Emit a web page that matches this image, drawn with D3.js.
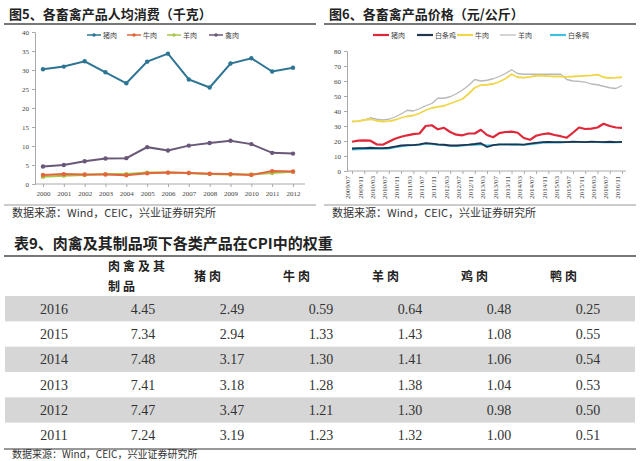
<!DOCTYPE html>
<html><head><meta charset="utf-8">
<script src="https://cdn.jsdelivr.net/npm/d3@7"></script>
<style>
body{margin:0;background:#fff;}
svg{display:block;}
</style></head>
<body>
<svg id="c" width="640" height="461"></svg>
<script>
// ---------- DATA ----------
const years = ["2000","2001","2002","2003","2004","2005","2006","2007","2008","2009","2010","2011","2012"];
const porkCons    = [30.2,30.9,32.3,29.4,26.5,32.2,34.3,27.5,25.4,31.7,33.1,29.6,30.6];
const beefCons    = [2.4,2.6,2.5,2.5,2.3,2.8,3.0,2.9,2.7,2.6,2.4,3.4,3.3];
const muttonCons  = [1.9,2.2,2.4,2.6,2.6,3.0,3.0,2.9,2.6,2.5,2.5,2.9,3.2];
const poultryCons = [4.6,5.0,6.0,6.7,6.8,9.7,8.8,10.1,10.8,11.4,10.5,8.2,8.0];
const consNames = ["猪肉","牛肉","羊肉","禽肉"];
const consTicks = [0,5,10,15,20,25,30,35,40];

const priceDates = ["2009/07","2009/09","2009/11","2010/01","2010/03","2010/05","2010/07","2010/09","2010/11","2011/01","2011/03","2011/05","2011/07","2011/09","2011/11","2012/01","2012/03","2012/05","2012/07","2012/09","2012/11","2013/01","2013/03","2013/05","2013/07","2013/09","2013/11","2014/01","2014/03","2014/05","2014/07","2014/09","2014/11","2015/01","2015/03","2015/05","2015/07","2015/09","2015/11","2016/01","2016/03","2016/05","2016/07","2016/09","2016/11"];
const porkPrice    = [19.5,20.2,20.4,20.2,17.8,17.5,19.5,21.5,22.8,23.8,24.6,25.0,30.0,30.5,27.8,28.8,26.0,24.2,23.8,25.0,25.0,27.5,24.0,22.5,25.2,26.0,26.2,25.5,22.0,20.8,23.5,24.5,25.1,24.0,23.2,22.2,25.5,29.0,28.0,28.2,29.0,31.5,30.0,29.0,28.8];
const chickenPrice = [15.0,15.2,15.3,15.5,15.3,15.2,15.5,16.3,17.0,17.3,17.2,17.8,18.6,18.3,17.8,17.5,17.0,17.0,17.3,17.6,18.0,18.5,16.0,17.2,17.8,17.8,17.8,17.8,17.6,18.2,18.8,19.3,19.4,19.3,19.2,19.3,19.5,19.4,19.3,19.5,19.4,19.2,19.5,19.3,19.4];
const beefPrice    = [33.0,33.3,34.0,34.5,33.5,33.0,33.2,34.0,35.5,36.5,37.0,38.5,40.5,42.0,42.8,43.5,45.0,46.5,48.0,51.5,55.5,57.3,57.5,58.0,59.5,61.5,64.5,62.5,62.3,62.8,63.5,63.5,63.3,63.0,63.0,62.8,63.0,63.3,63.5,63.8,64.2,62.5,62.0,62.2,62.5];
const muttonPrice  = [33.0,33.3,34.0,35.5,34.5,34.0,34.5,36.0,38.0,40.5,40.0,41.5,43.5,45.0,48.5,48.5,49.5,51.5,54.0,57.0,61.0,60.0,60.5,61.5,63.0,65.0,67.5,65.0,64.5,64.5,64.5,64.6,64.5,64.5,64.5,61.0,60.0,59.8,59.2,58.0,57.5,56.5,55.5,55.0,57.0];
const duckPrice    = [14.3,14.5,14.6,14.8,15.0,14.8,15.0,15.8,16.5,17.0,17.2,17.5,18.3,18.0,17.5,17.2,16.8,16.6,17.0,17.2,17.5,17.8,17.0,17.3,17.6,17.6,17.5,17.5,17.4,17.8,18.3,18.8,19.0,19.0,19.0,19.2,19.4,19.3,19.2,19.3,19.3,19.1,19.3,19.1,19.2];
const priceNames = ["猪肉","白条鸡","牛肉","羊肉","白条鸭"];
const priceTicks = [0,10,20,30,40,50,60,70,80];

const tableHeader = ["肉禽及其","制品","猪肉","牛肉","羊肉","鸡肉","鸭肉"];
const tableYears  = ["2016","2015","2014","2013","2012","2011"];
const colMeatPoultry = ["4.45","7.34","7.48","7.41","7.47","7.24"];
const colPork        = ["2.49","2.94","3.17","3.18","3.47","3.19"];
const colBeef        = ["0.59","1.33","1.30","1.28","1.21","1.23"];
const colMutton      = ["0.64","1.43","1.41","1.38","1.30","1.32"];
const colChicken     = ["0.48","1.08","1.06","1.04","0.98","1.00"];
const colDuck        = ["0.25","0.55","0.54","0.53","0.50","0.51"];

const sourceText = "数据来源：Wind，CEIC，兴业证券研究所";
const title5 = "图5、各畜禽产品人均消费（千克）";
const title6 = "图6、各畜禽产品价格（元/公斤）";
const title9 = "表9、肉禽及其制品项下各类产品在CPI中的权重";

// ---------- DRAW ----------
const svg = d3.select("#c");
const CJK = "'Noto Sans CJK SC', sans-serif";
const SERIF = "'Liberation Serif', 'DejaVu Serif', serif";

function panelTitle(x, text){
  svg.append("text").attr("x", x).attr("y", 19).attr("font-family", CJK)
    .attr("font-size", 13).attr("font-weight", "bold").attr("fill", "#222").text(text);
}
panelTitle(9, title5);
panelTitle(329, title6);
svg.append("line").attr("x1",4).attr("x2",316).attr("y1",24).attr("y2",24).attr("stroke","#777").attr("stroke-width",2);
svg.append("line").attr("x1",324).attr("x2",636).attr("y1",24).attr("y2",24).attr("stroke","#777").attr("stroke-width",2);
svg.append("line").attr("x1",4).attr("x2",316).attr("y1",205).attr("y2",205).attr("stroke","#999").attr("stroke-width",1);
svg.append("line").attr("x1",324).attr("x2",636).attr("y1",205).attr("y2",205).attr("stroke","#999").attr("stroke-width",1);
svg.append("text").attr("x",12).attr("y",217).attr("font-family",CJK).attr("font-size",11).attr("fill","#333").text(sourceText);
svg.append("text").attr("x",332).attr("y",217).attr("font-family",CJK).attr("font-size",11).attr("fill","#333").text(sourceText);

// ----- Chart 5 -----
{
  const x = d3.scalePoint().domain(years).range([43, 293]);
  const y = d3.scaleLinear().domain([0, 40]).range([184, 32]);
  const g = svg.append("g");
  const yAx = g.append("g").attr("transform","translate(35,0)")
    .call(d3.axisLeft(y).tickValues(consTicks).tickSize(3).tickPadding(3));
  yAx.select(".domain").attr("stroke","#aaa");
  yAx.selectAll(".tick line").attr("stroke","#aaa");
  yAx.selectAll("text").attr("font-family",SERIF).attr("font-size",7).attr("fill","#444");
  const xAx = g.append("g").attr("transform","translate(0,184)")
    .call(d3.axisBottom(x).tickSize(3).tickPadding(4));
  xAx.select(".domain").attr("stroke","#aaa").attr("d","M35,0H305");
  xAx.selectAll(".tick line").attr("stroke","#aaa");
  xAx.selectAll("text").attr("font-family",SERIF).attr("font-size",7).attr("fill","#444");

  const series = [
    {name:consNames[0], vals:porkCons,    color:"#2e7594", w:2},
    {name:consNames[3], vals:poultryCons, color:"#6a5878", w:2},
    {name:consNames[2], vals:muttonCons,  color:"#a9c64a", w:2},
    {name:consNames[1], vals:beefCons,    color:"#e2663c", w:2}
  ];
  const line = d3.line().x((d,i)=>x(years[i])).y(d=>y(d));
  series.forEach(s=>{
    g.append("path").attr("d", line(s.vals)).attr("fill","none").attr("stroke",s.color).attr("stroke-width",s.w);
    g.selectAll(null).data(s.vals).enter().append("circle")
      .attr("cx",(d,i)=>x(years[i])).attr("cy",d=>y(d)).attr("r",2.2).attr("fill",s.color);
  });
  const legColors = {"猪肉":"#2e7594","牛肉":"#e2663c","羊肉":"#a9c64a","禽肉":"#6a5878"};
  const legX = [87,127,167,209];
  consNames.forEach((n,i)=>{
    const lg = g.append("g").attr("transform",`translate(${legX[i]},35)`);
    lg.append("line").attr("x1",0).attr("x2",14).attr("stroke",legColors[n]).attr("stroke-width",1.5);
    lg.append("circle").attr("cx",7).attr("r",1.8).attr("fill",legColors[n]);
    lg.append("text").attr("x",16).attr("y",2.5).attr("font-family",CJK).attr("font-size",7).attr("fill","#444").text(n);
  });
}

// ----- Chart 6 -----
{
  const x = d3.scalePoint().domain(priceDates).range([352, 622]);
  const y = d3.scaleLinear().domain([0, 80]).range([171, 51]);
  const g = svg.append("g");
  const yAx = g.append("g").attr("transform","translate(347,0)")
    .call(d3.axisLeft(y).tickValues(priceTicks).tickSize(3).tickPadding(3));
  yAx.select(".domain").attr("stroke","#aaa");
  yAx.selectAll(".tick line").attr("stroke","#aaa");
  yAx.selectAll("text").attr("font-family",SERIF).attr("font-size",7).attr("fill","#444");
  const labelDates = priceDates.filter((d,i)=>i%2===0);
  const xAx = g.append("g").attr("transform","translate(0,171)")
    .call(d3.axisBottom(x).tickValues(labelDates).tickSize(3).tickPadding(2));
  xAx.select(".domain").attr("stroke","#aaa").attr("d","M347,0H626");
  xAx.selectAll(".tick line").attr("stroke","#aaa");
  xAx.selectAll("text").attr("font-family",SERIF).attr("font-size",7).attr("fill","#444")
    .attr("transform","rotate(-90)").attr("text-anchor","end").attr("dx","-5").attr("dy","-0.3em").attr("y",0).attr("x",0);

  const series = [
    {vals:muttonPrice,  color:"#b8b8b8", w:1.3},
    {vals:beefPrice,    color:"#f0d64a", w:1.8},
    {vals:duckPrice,    color:"#3fc0e0", w:1.8},
    {vals:chickenPrice, color:"#1f3550", w:1.8},
    {vals:porkPrice,    color:"#e0273a", w:2.2}
  ];
  const line = d3.line().x((d,i)=>x(priceDates[i])).y(d=>y(d));
  series.forEach(s=>{
    g.append("path").attr("d", line(s.vals)).attr("fill","none").attr("stroke",s.color).attr("stroke-width",s.w).attr("stroke-linejoin","round");
  });
  const legColors = ["#e0273a","#1f3550","#f0d64a","#b8b8b8","#3fc0e0"];
  const legX = [373,417,457,500,550];
  priceNames.forEach((n,i)=>{
    const lg = g.append("g").attr("transform",`translate(${legX[i]},35)`);
    lg.append("line").attr("x1",0).attr("x2",16).attr("stroke",legColors[i]).attr("stroke-width",i===3?1.2:2.2);
    lg.append("text").attr("x",18).attr("y",2.5).attr("font-family",CJK).attr("font-size",7).attr("fill","#444").text(n);
  });
}

// ----- Table 9 -----
{
  svg.append("text").attr("x",14).attr("y",249).attr("font-family",CJK).attr("font-size",15)
    .attr("font-weight","bold").attr("fill","#222").text(title9);
  svg.append("line").attr("x1",4).attr("x2",636).attr("y1",256).attr("y2",256).attr("stroke","#777").attr("stroke-width",2);
  const cols = [colMeatPoultry,colPork,colBeef,colMutton,colChicken,colDuck];
  const colX = d3.scalePoint().domain(d3.range(7)).range([54, 588]);
  const rowY = d3.scaleBand().domain(tableYears).range([296, 448]);
  tableYears.forEach((yr,i)=>{
    if(i%2===0) svg.append("rect").attr("x",5).attr("width",630).attr("y",rowY(yr)).attr("height",rowY.bandwidth()).attr("fill","#d6d6d6");
  });
  // header
  const hdr = (x,y,t)=>svg.append("text").attr("x",x).attr("y",y).attr("font-family",CJK).attr("font-size",12)
      .attr("font-weight","bold").attr("letter-spacing",3).attr("fill","#222").text(t);
  hdr(108,271,tableHeader[0]);
  hdr(108,291,tableHeader[1]);
  tableHeader.slice(2).forEach((h,i)=>hdr(colX(i+2)-38,281,h));
  tableYears.forEach((yr,i)=>{
    const cy = rowY(yr)+rowY.bandwidth()/2+5;
    svg.append("text").attr("x",colX(0)).attr("y",cy).attr("text-anchor","middle").attr("font-family",SERIF).attr("font-size",14).attr("fill","#333").text(yr);
    cols.forEach((c,j)=>{
      svg.append("text").attr("x",colX(j+1)).attr("y",cy).attr("text-anchor","middle").attr("font-family",SERIF).attr("font-size",14).attr("fill","#333").text(c[i]);
    });
  });
  svg.append("line").attr("x1",4).attr("x2",636).attr("y1",449).attr("y2",449).attr("stroke","#777").attr("stroke-width",1.5);
  svg.append("text").attr("x",12).attr("y",458).attr("font-family",CJK).attr("font-size",10).attr("fill","#333").text(sourceText);
}
</script>
</body></html>
